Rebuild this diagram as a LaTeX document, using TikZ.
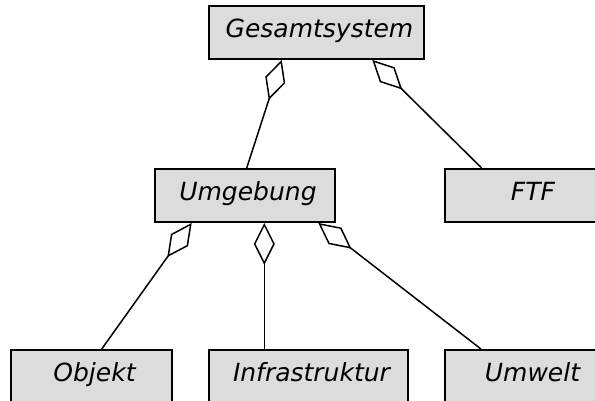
\documentclass[tikz,border=0pt]{standalone}
\usepackage{fontspec}
\setmainfont{DejaVu Sans}
\usetikzlibrary{arrows.meta}
\definecolor{boxfill}{RGB}{220,220,220}
\tikzset{
  cls/.style={draw=black, fill=boxfill, line width=1.9pt, rectangle,
    inner xsep=0pt, inner ysep=0pt, text height=31pt, text depth=22pt,
    font=\fontsize{25}{28}\selectfont\itshape,
    execute at begin node={\hspace*{6pt}}},
  agg/.style={line width=1.5pt, {Diamond[open,length=42pt,width=21pt]}-}
}
\begin{document}
\begin{tikzpicture}[x=1pt,y=-1pt]
\useasboundingbox (0,0) rectangle (595,400);
\clip (0,0) rectangle (595,400);
\node[cls, minimum width=215pt] (ges) at (316.5,32.5) {Gesamtsystem};
\node[cls, minimum width=180pt] (umg) at (245,195.5) {Umgebung};
\node[cls, minimum width=170pt] (ftf) at (530,195.5) {FTF};
\node[cls, minimum width=161pt] (obj) at (91.5,376.5) {Objekt};
\node[cls, minimum width=199pt] (inf) at (308.5,376.5) {Infrastruktur};
\node[cls, minimum width=169pt] (umw) at (529.5,376.5) {Umwelt};
\draw[agg] ([xshift=-34.8pt]ges.south) -- ([xshift=1.7pt]umg.north);
\draw[agg] ([xshift=55.8pt]ges.south) -- ([xshift=-48.3pt]ftf.north);
\draw[agg] ([xshift=-53.3pt]umg.south) -- ([xshift=10.2pt]obj.north);
\draw[agg] ([xshift=19.3pt]umg.south) -- ([xshift=-44.2pt]inf.north);
\draw[agg] ([xshift=73.3pt]umg.south) -- ([xshift=-48.5pt]umw.north);
\end{tikzpicture}
\end{document}
